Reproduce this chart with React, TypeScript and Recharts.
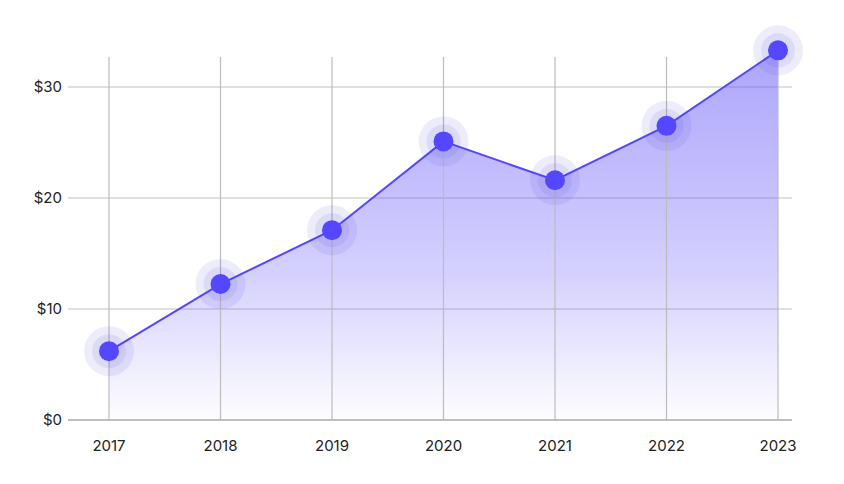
import { AreaChart, Area, XAxis, YAxis, CartesianGrid, ReferenceLine } from "recharts";

const years = ["2017", "2018", "2019", "2020", "2021", "2022", "2023"];
const prices = [6.2, 12.25, 17.1, 25.1, 21.6, 26.5, 33.3];
const yTicks = [0, 10, 20, 30];
const yMax = 34;
const gridTop = 32.7;

const data = years.map((year, i) => ({ year, price: prices[i] }));

const HaloDot = (props: any) => {
  const { cx, cy, index } = props;
  if (cx == null || cy == null) return null;
  return (
    <g key={`dot-${index}`}>
      <circle cx={cx} cy={cy} r={25} fill="#4a40d8" fillOpacity={0.1} />
      <circle cx={cx} cy={cy} r={17} fill="#4a40d8" fillOpacity={0.1} />
      <circle cx={cx} cy={cy} r={10} fill="#5546ff" />
    </g>
  );
};

export default function App() {
  return (
    <div style={{ width: 844, height: 484, margin: -8, background: "#fff", fontFamily: "Inter, sans-serif" }}>
      <AreaChart width={844} height={484} data={data} margin={{ top: 42.6, right: 52, bottom: 34, left: 8 }}>
        <defs>
          <linearGradient id="fillGrad" x1="0" y1="0" x2="0" y2="1">
            <stop offset="0%" stopColor="#6a5cfa" stopOpacity={0.92} />
            <stop offset="60%" stopColor="#6a5cfa" stopOpacity={0.48} />
            <stop offset="100%" stopColor="#6a5cfa" stopOpacity={0.02} />
          </linearGradient>
        </defs>
        <CartesianGrid vertical={false} stroke="#c0c0c0" strokeWidth={1.2} horizontalValues={yTicks} />
        {years.map((y) => (
          <ReferenceLine
            key={y}
            segment={[{ x: y, y: 0 }, { x: y, y: gridTop }]}
            stroke="#bcbcbc"
            strokeWidth={1.2}
          />
        ))}
        <XAxis
          dataKey="year"
          padding={{ left: 41, right: 14 }}
          axisLine={{ stroke: "#b4b4b4", strokeWidth: 1.5 }}
          tickLine={false}
          tick={{ fontSize: 15, fill: "#222" }}
          tickMargin={14}
        />
        <YAxis
          domain={[0, yMax]}
          ticks={yTicks}
          tickFormatter={(v) => `$${v}`}
          axisLine={false}
          tickLine={false}
          tick={{ fontSize: 15, fill: "#222" }}
          width={60}
          tickMargin={0}
        />
        <Area
          type="linear"
          dataKey="price"
          stroke="#5546ff"
          strokeWidth={2}
          fill="url(#fillGrad)"
          dot={HaloDot}
          activeDot={false}
          isAnimationActive={false}
        />
      </AreaChart>
    </div>
  );
}
